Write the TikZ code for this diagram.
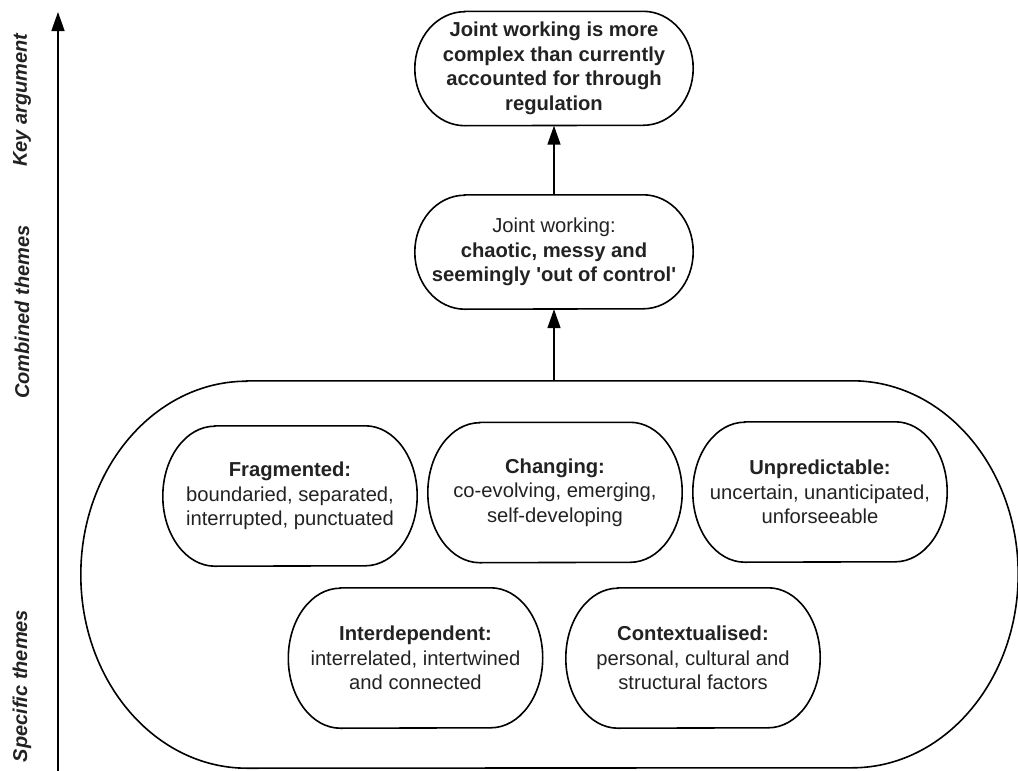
\documentclass[tikz,border=0pt]{standalone}
\usepackage{fontspec}
\setmainfont{Liberation Sans}
\usetikzlibrary{arrows.meta}
\definecolor{ink}{HTML}{222222}

% capsule outline around a named node: straight top and bottom, elliptical ends
\newcommand\capsuleoutline[3]{%
  \draw[outline] ([xshift=#2pt]#1.north west) -- ([xshift=-#2pt]#1.north east)
    arc[start angle=90, end angle=-90, x radius=#2pt, y radius=#3pt]
    -- ([xshift=#2pt]#1.south west)
    arc[start angle=270, end angle=90, x radius=#2pt, y radius=#3pt] -- cycle;}

\tikzset{
  outline/.style={line width=1.6pt, draw=black},
  txt/.style={inner sep=0pt, align=center, text=ink,
    font=\fontsize{20.2}{24.5}\selectfont},
  themebox/.style={txt, minimum width=254pt, minimum height=140pt},
  claimbox/.style={txt, minimum width=278pt, minimum height=114pt},
  axislabel/.style={rotate=90, text=ink,
    font=\fontsize{20}{24}\selectfont\bfseries\itshape},
  link/.style={line width=1.6pt, -{Triangle[width=13pt,length=19pt]}},
}

\begin{document}
\begin{tikzpicture}[x=1pt, y=-1pt]
\useasboundingbox (0,0) rectangle (1018,771);

% vertical axis with level labels
\coordinate (axb) at (58,771);
\coordinate (axt) at (58,12);
\draw[link] (axb) -- (axt);
\node[axislabel] (lkey) at (22,100) {Key argument};
\node[axislabel] (lcomb) at (22,312) {Combined themes};
\node[axislabel] (lspec) at (22,686) {Specific themes};

% outer container of the specific themes
\node[inner sep=0pt, minimum width=937pt, minimum height=387pt] (themes) at (549.5,574.5) {};
\capsuleoutline{themes}{166}{193.5}

% top-level claims
\node[claimbox] (key) at (554,68.5)
  {\bfseries Joint working is more\\ \bfseries complex than currently\\ \bfseries accounted for through\\ \bfseries regulation};
\capsuleoutline{key}{50}{57}

\node[claimbox] (mid) at (554,252)
  {Joint working:\\ \bfseries chaotic, messy and\\ \bfseries seemingly \textquotesingle out of control\textquotesingle};
\capsuleoutline{mid}{50}{57}

% specific themes
\node[themebox] (frag) at (290,496)
  {\textbf{Fragmented:}\\ boundaried, separated,\\ interrupted, punctuated};
\capsuleoutline{frag}{52}{70}

\node[themebox] (chg) at (555,492.5)
  {\textbf{Changing:}\\ co-evolving, emerging,\\ self-developing};
\capsuleoutline{chg}{52}{70}

\node[themebox] (unp) at (820,492)
  {\textbf{Unpredictable:}\\ uncertain, unanticipated,\\ unforseeable};
\capsuleoutline{unp}{52}{70}

\node[themebox] (inter) at (415.5,658)
  {\textbf{Interdependent:}\\ interrelated, intertwined\\ and connected};
\capsuleoutline{inter}{52}{70}

\node[themebox] (ctx) at (693,658)
  {\textbf{Contextualised:}\\ personal, cultural and\\ structural factors};
\capsuleoutline{ctx}{52}{70}

% connectors
\draw[link] (mid.south |- themes.north) -- (mid.south);
\draw[link] (mid.north) -- (key.south);
\end{tikzpicture}
\end{document}
